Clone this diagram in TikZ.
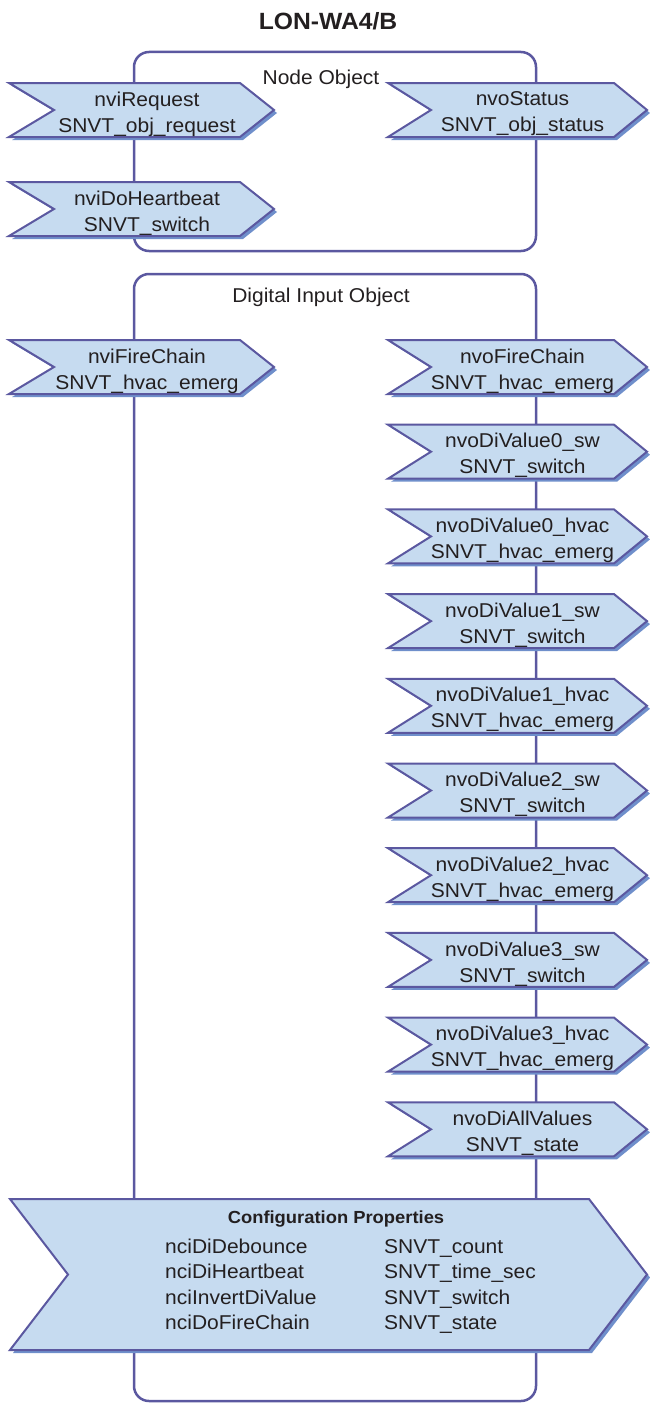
\documentclass[tikz,border=0pt]{standalone}
\usepackage{fontspec}
\setmainfont{Liberation Sans}[FakeStretch=1.05]
\definecolor{sigfill}{HTML}{C6DBF0}
\definecolor{sigshadow}{HTML}{6F8FCB}
\definecolor{sigline}{HTML}{5B58A0}
\definecolor{txt}{HTML}{231F20}
\newcommand\sigshape[8]{% name, x-left, y-top, width, height, notch, tip, text
  \fill[sigshadow,shift={(3,3)}] (#2,#3) -- ({#2+#4-#7},#3) -- ({#2+#4},{#3+#5/2}) -- ({#2+#4-#7},{#3+#5}) -- (#2,{#3+#5}) -- ({#2+#6},{#3+#5/2}) -- cycle;
  \draw[sigbox] (#2,#3) -- ({#2+#4-#7},#3) -- ({#2+#4},{#3+#5/2}) -- ({#2+#4-#7},{#3+#5}) -- (#2,{#3+#5}) -- ({#2+#6},{#3+#5/2}) -- cycle;
  \node[sigtext] (#1) at ({#2+(#6+#4-#7)/2},{#3+#5/2+4}) {#8};}
\tikzset{
  sigbox/.style={fill=sigfill,draw=sigline,line width=2pt,line join=miter},
  sigtext/.style={align=center,inner sep=0pt,text=txt,font=\fontsize{20}{26}\selectfont},
  objbox/.style={draw=sigline,line width=2.5pt,rounded corners=15pt},
  objlabel/.style={inner sep=0pt,text=txt,font=\fontsize{20}{22}\selectfont},
}
\begin{document}
\begin{tikzpicture}[x=1pt,y=-1pt]
\useasboundingbox (0,0) rectangle (650,1405);
% title
\node[inner sep=0pt,text=txt,font=\fontsize{23.5}{26}\bfseries\selectfont] (title) at (328,21) {LON-WA4/B};
% object boxes
\draw[objbox] (134,52) rectangle (536,251);
\draw[objbox] (134,274) rectangle (536,1401);
\node[objlabel] (nodeobj) at (321,79) {Node Object};
\node[objlabel] (diobj) at (321,297) {Digital Input Object};
% node object
\sigshape{nviRequest}{9}{83}{265}{54}{45}{34}{nviRequest\\SNVT\_obj\_request}
\sigshape{nvoStatus}{388}{83}{259}{54}{43}{33}{nvoStatus\\SNVT\_obj\_status}
\sigshape{nviDoHeartbeat}{9}{182}{265}{54}{45}{34}{nviDoHeartbeat\\SNVT\_switch}
% digital input object
\sigshape{nviFireChain}{9}{340}{265}{54}{45}{34}{nviFireChain\\SNVT\_hvac\_emerg}
\sigshape{nvoFireChain}{388}{340}{259}{54}{43}{33}{nvoFireChain\\SNVT\_hvac\_emerg}
\sigshape{nvoDiValueA}{388}{424.7}{259}{54}{43}{33}{nvoDiValue0\_sw\\SNVT\_switch}
\sigshape{nvoDiValueB}{388}{509.4}{259}{54}{43}{33}{nvoDiValue0\_hvac\\SNVT\_hvac\_emerg}
\sigshape{nvoDiValueC}{388}{594.1}{259}{54}{43}{33}{nvoDiValue1\_sw\\SNVT\_switch}
\sigshape{nvoDiValueD}{388}{678.8}{259}{54}{43}{33}{nvoDiValue1\_hvac\\SNVT\_hvac\_emerg}
\sigshape{nvoDiValueE}{388}{763.5}{259}{54}{43}{33}{nvoDiValue2\_sw\\SNVT\_switch}
\sigshape{nvoDiValueF}{388}{848.2}{259}{54}{43}{33}{nvoDiValue2\_hvac\\SNVT\_hvac\_emerg}
\sigshape{nvoDiValueG}{388}{932.9}{259}{54}{43}{33}{nvoDiValue3\_sw\\SNVT\_switch}
\sigshape{nvoDiValueH}{388}{1017.6}{259}{54}{43}{33}{nvoDiValue3\_hvac\\SNVT\_hvac\_emerg}
\sigshape{nvoDiAllValues}{388}{1102.3}{259}{54}{43}{33}{nvoDiAllValues\\SNVT\_state}
% configuration properties
\sigshape{cfgarrow}{10}{1199}{637}{151}{58}{58}{}
\node[inner sep=0pt,text=txt,font=\fontsize{17.5}{20}\bfseries\selectfont] (cfgtitle) at (336,1219) {Configuration Properties};
\node[anchor=north west,inner sep=0pt,text=txt,font=\fontsize{20}{25.5}\selectfont] (cfglist) at (165,1235)
  {\begin{tabular}{@{}p{219pt}@{}l@{}}
   nciDiDebounce & SNVT\_count\\
   nciDiHeartbeat & SNVT\_time\_sec\\
   nciInvertDiValue & SNVT\_switch\\
   nciDoFireChain & SNVT\_state
   \end{tabular}};
\end{tikzpicture}
\end{document}
